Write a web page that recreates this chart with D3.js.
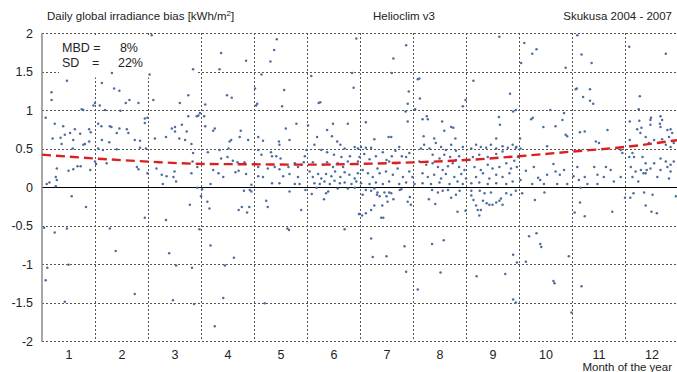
<!DOCTYPE html>
<html>
<head>
<meta charset="utf-8">
<script src="https://cdn.jsdelivr.net/npm/d3@7"></script>
<style>
  body { margin: 0; background: #fff; }
  text { font-family: "Liberation Sans", Arial, sans-serif; fill: #222; }
</style>
</head>
<body>
<div id="chart"></div>
<script>
// daily bias, [month of year, bias kWh/m2]
const jan = [[0.68,1.23],[0.68,1.13],[0.97,1.38],[0.57,0.90],[0.74,0.82],[0.70,0.63],[0.85,0.64],[0.93,0.68],[1.03,0.70],[1.12,0.75],[0.90,0.79],[1.09,0.61],[0.87,0.56],[1.28,0.55],[1.31,0.56],[1.22,0.69],[1.39,0.75],[1.42,0.71],[1.28,1.0],[1.25,1.01],[1.39,0.59],[1.08,0.50],[0.78,0.24],[0.76,0.13],[0.78,0.09],[0.59,0.04],[0.64,0.06],[1.0,0.21],[1.09,0.23],[1.17,0.27],[1.23,0.27],[1.41,0.22],[1.47,1.06],
  [0.76,0.01],[1.06,-0.12],[1.33,-0.26],[0.54,-0.53],[0.74,-0.59],[0.97,-0.54],[0.6,-1.05],[0.57,-1.21],[1.0,-1.01],[0.93,-1.49]];
const feb = [[1.5,0.33],[1.5,1.09],[1.63,1.35],[1.82,1.48],[1.86,1.28],[1.96,1.25],[1.59,1.06],[1.69,1.0],[1.98,0.99],[2.08,1.09],[2.15,1.13],[2.32,1.09],[2.44,0.89],[1.56,0.82],[1.62,0.79],[1.78,0.79],[1.81,0.78],[1.91,0.70],[1.96,0.76],[2.1,0.75],[2.13,0.70],[1.63,0.61],[1.77,0.58],[1.56,0.50],[1.65,0.48],[1.91,0.49],[2.25,0.61],[2.35,0.60],[2.35,0.51],[2.46,0.50],[2.44,0.83],[2.49,0.90],[1.72,0.31],[1.52,0.30],[2.29,0.26],[2.32,0.23],[2.49,0.18],
  [1.78,-0.54],[1.89,-0.83],[2.25,-1.39],[2.44,-0.40]];
const mar = [[2.53,1.46],[2.57,1.97],[2.6,1.13],[2.63,0.63],[2.66,0.24],[2.78,0.04],[2.85,0.14],[2.84,0.65],[2.95,0.76],[3.01,0.78],[3.01,0.72],[3.1,1.09],[3.26,1.19],[3.26,0.92],[3.14,0.81],[3.09,0.63],[3.2,0.61],[3.23,0.72],[3.32,0.56],[3.35,0.44],[3.34,0.33],[3.42,0.92],[3.45,0.93],[3.35,1.53],[3.0,0.20],[2.98,0.13],[2.76,0.16],[3.03,0.07],[3.32,0.18],[3.43,0.26],
  [2.84,-0.43],[2.9,-0.86],[3.03,-1.02],[2.97,-1.47],[3.37,-1.52],[3.29,-0.23],[3.33,-1.05],[3.43,-0.01],[3.5,-0.12],[3.47,-0.55]];
const apr = [[3.88,1.74],[3.85,1.53],[4.35,1.64],[3.58,1.07],[3.99,1.19],[4.08,1.16],[3.48,0.96],[3.56,0.92],[3.58,0.79],[3.73,0.73],[3.76,0.76],[4.04,0.59],[4.07,0.61],[4.23,0.65],[4.25,0.73],[4.39,0.61],[3.63,0.45],[3.85,0.48],[4.02,0.50],[3.88,0.37],[4.0,0.39],[4.1,0.34],[4.19,0.32],[4.32,0.32],[3.73,0.22],[3.83,0.18],[3.92,0.13],[4.15,0.19],[4.21,0.21],[4.35,0.17],[3.68,0.04],[4.45,0.03],
  [3.52,-0.03],[3.62,-0.19],[3.66,-0.28],[4.31,-0.05],[4.45,-0.06],[4.42,-0.04],[4.21,-0.30],[4.27,-0.26],[4.37,-0.33],[4.41,-0.26],[3.68,-0.76],[4.12,-0.92],[3.95,-1.02],[3.92,-1.44],[3.76,-1.81]];
const may = [[4.52,1.28],[4.56,1.08],[4.64,1.46],[4.81,1.63],[4.88,1.78],[4.93,1.92],[5.07,1.26],[5.03,1.05],[4.54,1.06],[5.1,0.76],[5.3,0.82],[5.17,0.61],[4.97,0.59],[4.98,0.55],[4.58,0.65],[4.67,0.60],[4.58,0.48],[4.82,0.45],[4.84,0.40],[4.92,0.40],[5.0,0.37],[4.64,0.42],[4.58,0.26],[4.76,0.24],[4.89,0.26],[4.98,0.23],[5.15,0.26],[5.27,0.31],[5.33,0.26],[5.39,0.29],[5.44,0.32],[4.58,0.14],[4.67,0.13],[5.05,0.14],[5.17,0.17],[5.33,0.13],[4.84,0.05],[4.98,0.05],[5.27,0.04],[5.36,0.04],[5.46,0.40],[5.49,0.48],
  [4.73,-0.18],[4.76,-0.26],[5.17,-0.06],[5.39,-0.30],[5.13,-0.54],[5.16,-0.56],[4.7,-1.51],[5.47,-0.04]];
const jun = [[5.58,1.44],[5.72,1.09],[5.75,1.10],[6.43,1.93],[6.35,1.48],[6.38,1.29],[5.99,0.82],[6.27,0.82],[5.88,0.74],[5.52,0.80],[5.69,0.65],[5.97,0.66],[6.07,0.59],[6.13,0.55],[6.21,0.50],[5.64,0.55],[5.77,0.48],[5.88,0.45],[6.01,0.42],[6.15,0.39],[6.31,0.40],[6.4,0.52],[5.61,0.32],[5.8,0.29],[5.88,0.32],[5.99,0.26],[6.08,0.31],[6.18,0.26],[6.27,0.33],[6.35,0.30],[6.46,0.33],
  [5.55,0.20],[5.61,0.13],[5.71,0.17],[5.77,0.11],[5.86,0.17],[5.96,0.14],[6.03,0.20],[6.13,0.13],[6.21,0.19],[6.3,0.16],[6.4,0.11],[6.46,0.18],[5.64,0.05],[5.74,0.04],[5.83,0.07],[5.93,0.04],[6.02,0.08],[6.12,0.05],[6.21,0.06],[6.34,0.04],[6.43,0.07],
  [5.59,-0.09],[5.68,-0.01],[5.82,-0.16],[5.86,-0.08],[5.9,-0.06],[6.21,-0.55],[6.48,-0.35],[6.08,-0.02],[6.27,-0.02],[6.4,-0.01]];
const jul = [[7.37,1.84],[7.13,1.67],[7.1,1.48],[7.42,1.24],[7.4,1.08],[7.36,0.98],[7.4,0.85],[6.61,0.84],[6.77,0.62],[7.04,0.65],[7.09,0.65],
  [6.46,0.50],[6.52,0.52],[6.61,0.51],[6.71,0.51],[6.49,0.39],[6.58,0.43],[6.68,0.36],[6.8,0.40],[6.93,0.45],[7.0,0.35],[7.1,0.40],[7.17,0.47],[7.24,0.52],[7.29,0.40],[7.37,0.39],[7.43,0.44],[7.18,0.31],[7.05,0.33],[6.55,0.22],[6.65,0.18],[6.74,0.13],[6.83,0.24],[6.87,0.18],[6.99,0.20],[7.12,0.16],[7.21,0.24],[7.31,0.13],[7.43,0.20],[7.49,0.13],[6.52,0.05],[6.68,0.04],[6.8,0.06],[6.93,0.04],[7.05,0.07],[7.24,0.04],[7.37,0.06],
  [6.49,-0.35],[6.54,-0.37],[6.61,-0.34],[6.71,-0.30],[6.77,-0.24],[6.82,-0.10],[6.87,-0.12],[6.9,-0.40],[6.94,-0.40],[6.92,-0.24],[7.0,-0.12],[7.02,-0.19],[7.05,-0.07],[7.13,-0.16],[7.25,-0.04],[7.28,-0.03],[7.4,-0.19],[7.44,-0.13],[7.46,-0.23],[6.55,-0.10],[6.61,-0.04],[6.71,-0.05],[6.77,-0.02],[6.83,-0.07],[6.96,-0.07],[7.09,-0.08],
  [6.71,-0.67],[6.74,-0.91],[7.0,-0.90],[7.34,-0.77],[7.37,-1.10]];
const aug = [[7.59,1.40],[7.62,1.41],[7.63,1.15],[7.54,1.01],[7.68,0.88],[7.76,0.92],[7.78,0.88],[8.05,0.85],[8.22,0.78],[8.26,0.77],[8.09,0.73],[8.3,0.63],[7.9,0.63],[7.7,0.66],[8.44,1.05],[8.49,1.13],
  [7.53,0.04],[7.65,0.50],[7.71,0.55],[7.81,0.50],[7.93,0.57],[8.03,0.52],[8.12,0.48],[8.22,0.55],[8.31,0.47],[8.37,0.40],[8.44,0.52],[7.87,0.42],[8.0,0.37],[8.09,0.42],[8.2,0.39],[8.31,0.35],[7.62,0.33],[7.75,0.29],[7.87,0.31],[7.97,0.26],[8.06,0.22],[8.16,0.27],[8.25,0.31],[8.37,0.26],[8.47,0.22],[7.68,0.18],[7.78,0.13],[7.9,0.16],[8.03,0.11],[8.12,0.17],[8.28,0.13],[8.41,0.17],[8.5,0.11],[7.68,0.05],[7.84,0.04],[8.0,0.06],[8.19,0.04],[8.34,0.07],[8.44,0.04],
  [7.59,-1.33],[7.8,-0.16],[7.86,-0.04],[7.97,-0.07],[8.06,-0.05],[8.16,-0.04],[8.22,-0.14],[8.31,-0.10],[8.38,-0.05],[7.92,-0.22],[7.86,-0.74],[8.08,-0.69],[8.02,-1.11],[8.34,-0.32],[8.49,-0.31]];
const sep = [[8.64,1.38],[9.13,1.95],[9.33,1.21],[9.39,0.98],[9.44,1.0],[9.12,0.91],[9.14,0.81],[9.07,0.63],
  [8.6,0.50],[8.69,0.55],[8.78,0.52],[8.88,0.51],[8.97,0.55],[9.07,0.50],[9.19,0.53],[9.29,0.51],[9.38,0.55],[9.44,0.51],[8.63,0.39],[8.75,0.42],[8.91,0.39],[9.07,0.43],[9.19,0.46],[9.32,0.39],[9.41,0.34],[8.66,0.26],[8.78,0.22],[8.91,0.29],[9.0,0.24],[9.13,0.26],[9.26,0.31],[9.35,0.24],[8.69,0.13],[8.82,0.18],[8.94,0.11],[9.07,0.16],[9.19,0.13],[9.32,0.18],[8.6,0.05],[8.75,0.06],[8.91,0.04],[9.07,0.05],[9.26,0.04],[9.38,0.07],[9.45,0.52],[9.48,0.39],[9.46,0.26],
  [8.6,-0.05],[8.64,-0.17],[8.69,-0.24],[8.72,-0.30],[8.75,-0.37],[8.78,-0.30],[8.82,-0.18],[8.85,-0.08],[8.89,-0.21],[8.94,-0.23],[9.0,-0.23],[9.07,-0.20],[9.13,-0.18],[9.16,-0.15],[9.19,-0.23],[9.26,-0.08],[9.35,-0.10],[9.44,-0.05],[8.6,-0.11],[8.76,-0.05],[8.97,-0.07],
  [8.7,-1.16],[9.24,-1.13],[9.39,-0.88],[9.46,-0.98],[9.39,-1.46],[9.44,-1.50]];
const oct = [[9.6,1.87],[9.75,1.73],[9.83,1.79],[9.54,1.61],[10.38,1.55],[10.09,1.00],[10.35,0.96],[9.73,0.88],[9.76,0.90],[9.96,0.78],[10.19,0.79],[10.32,0.87],[10.38,0.68],[10.41,0.66],[9.52,0.63],[9.53,0.50],[10.03,0.53],
  [9.63,0.21],[9.78,0.26],[9.86,0.12],[9.9,0.09],[10.03,0.16],[10.15,0.30],[10.19,0.20],[10.27,0.16],[10.35,0.22],[10.41,0.04],[10.22,0.04],[9.97,0.04],[9.75,0.04],[9.53,0.09],
  [9.56,-0.08],[9.8,-0.17],[9.98,-0.07],[9.69,-0.64],[9.83,-0.60],[9.9,-0.74],[9.92,-0.78],[9.63,-0.97],[10.15,-1.22],[10.17,-1.25],[10.44,-0.90],[10.49,-1.63]];
const nov = [[10.6,1.97],[10.68,1.72],[10.87,1.61],[10.57,1.27],[10.59,1.28],[10.71,1.17],[10.84,1.27],[10.84,1.12],[10.9,1.08],[10.74,0.72],[10.65,0.71],[11.17,0.74],[10.95,0.59],[11.01,0.57],[11.42,0.48],[11.45,0.44],[10.53,0.14],[10.6,0.26],[10.63,0.09],[10.74,0.13],[10.79,0.04],[10.92,0.26],[10.98,0.16],[11.14,0.26],[11.23,0.22],[11.1,0.13],[11.29,0.07],[11.42,0.13],[10.98,0.04],
  [10.65,-0.20],[10.55,-0.33],[10.74,-0.38],[10.66,-0.01],[11.26,-0.32],[10.68,-1.29],[11.5,-0.14]];
const dec = [[11.58,1.82],[12.27,1.73],[11.78,1.18],[11.76,1.01],[11.59,0.85],[11.77,0.86],[11.81,0.77],[11.73,0.75],[11.79,0.70],[11.89,0.65],[11.98,0.81],[11.99,0.90],[11.98,0.87],[12.17,0.92],[12.2,0.87],[12.17,0.78],[12.16,0.82],[12.3,0.74],[12.36,0.75],[12.39,0.70],[12.33,0.65],[11.95,0.57],[12.05,0.61],[12.14,0.57],[12.2,0.62],[12.27,0.55],[12.36,0.52],[12.42,0.57],[11.59,0.61],[11.64,0.44],[11.67,0.39],[11.58,0.39],[11.83,0.39],[11.89,0.31],[12.05,0.31],[12.17,0.37],[12.27,0.33],[12.36,0.29],[12.42,0.33],[11.61,0.26],[11.7,0.20],[11.8,0.22],[11.89,0.18],[11.98,0.24],[12.11,0.13],[12.17,0.22],[12.3,0.26],[12.36,0.20],[12.33,0.11],[11.64,0.13],[11.75,0.07],[11.85,0.18],[11.91,0.22],
  [11.6,-0.14],[11.66,-0.08],[11.86,-0.07],[12.02,-0.10],[11.89,-0.24],[12.0,-0.32],[12.1,-0.34],[12.46,-0.12]];

// fitted trend (red dashed)
const trendMonth = [0.5, 1.5, 2.5, 3.5, 4.5, 5.5, 6.5, 7.5, 8.5, 9.5, 10.5, 11.5, 12.5];
const trendBias = [0.42, 0.37, 0.33, 0.30, 0.295, 0.29, 0.30, 0.32, 0.35, 0.40, 0.46, 0.52, 0.61];

const months = [1, 2, 3, 4, 5, 6, 7, 8, 9, 10, 11, 12];
const monthEdges = [1.5, 2.5, 3.5, 4.5, 5.5, 6.5, 7.5, 8.5, 9.5, 10.5, 11.5];
const yTicks = [-2, -1.5, -1, -0.5, 0, 0.5, 1, 1.5, 2];

const allPoints = [].concat(jan, feb, mar, apr, may, jun, jul, aug, sep, oct, nov, dec);

var chartWidth = 677;
var chartHeight = 372;
var plotLeft = 42, plotRight = 678, plotTop = 33, plotBottom = 341;

const svg = d3.select('#chart')
    .append('svg')
    .attr('width', chartWidth)
    .attr('height', chartHeight);

const x = d3.scaleLinear().domain([0.5, 12.5]).range([plotLeft, plotRight]);
const y = d3.scaleLinear().domain([-2, 2]).range([plotBottom, plotTop]);

// grid
svg.append('g')
    .selectAll('line')
    .data(yTicks.filter(d => d !== 0))
    .enter()
    .append('line')
    .attr('x1', plotLeft).attr('x2', chartWidth)
    .attr('y1', d => Math.round(y(d)) + 0.5).attr('y2', d => Math.round(y(d)) + 0.5)
    .attr('stroke', '#555')
    .attr('stroke-width', 1)
    .attr('stroke-dasharray', '2,2');

svg.append('g')
    .selectAll('line')
    .data(monthEdges)
    .enter()
    .append('line')
    .attr('x1', d => Math.round(x(d)) + 0.5).attr('x2', d => Math.round(x(d)) + 0.5)
    .attr('y1', plotTop).attr('y2', plotBottom)
    .attr('stroke', '#555')
    .attr('stroke-width', 1)
    .attr('stroke-dasharray', '2,2');

// white box behind the statistics text
svg.append('rect')
    .attr('x', 59).attr('y', y(2) + 2)
    .attr('width', 138).attr('height', y(1.5) - y(2) + 4)
    .attr('fill', '#fff');

// zero line
svg.append('line')
    .attr('x1', plotLeft).attr('x2', chartWidth)
    .attr('y1', Math.round(y(0)) + 0.5).attr('y2', Math.round(y(0)) + 0.5)
    .attr('stroke', '#000')
    .attr('stroke-width', 1);

// left axis
svg.append('line')
    .attr('x1', plotLeft).attr('x2', plotLeft)
    .attr('y1', plotTop).attr('y2', plotBottom + 1)
    .attr('stroke', '#8a8a8a')
    .attr('stroke-width', 1.5);

// points
svg.append('g')
    .selectAll('circle')
    .data(allPoints)
    .enter()
    .append('circle')
    .attr('cx', d => x(d[0]))
    .attr('cy', d => y(d[1]))
    .attr('r', 1.25)
    .attr('fill', '#4d6d9e');

// trend
const line = d3.line()
    .x((d, i) => x(trendMonth[i]))
    .y(d => y(d))
    .curve(d3.curveMonotoneX);

svg.append('path')
    .datum(trendBias)
    .attr('d', line)
    .attr('fill', 'none')
    .attr('stroke', '#dd1f1f')
    .attr('stroke-width', 2.4)
    .attr('stroke-dasharray', '9,5');

// axes labels
const yAxis = d3.axisLeft(y).tickValues(yTicks).tickSize(0).tickPadding(9)
    .tickFormat(d => String(d));
const gy = svg.append('g').attr('transform', `translate(${plotLeft},0)`).call(yAxis);
gy.select('.domain').remove();
gy.selectAll('text').style('font-size', '12.5px').attr('fill', '#222')
    .style('font-family', '"Liberation Sans", Arial, sans-serif');

const xAxis = d3.axisBottom(x).tickValues(months).tickSize(0).tickPadding(9);
const gx = svg.append('g').attr('transform', `translate(0,${plotBottom})`).call(xAxis);
gx.select('.domain').remove();
gx.selectAll('text').style('font-size', '12.5px').attr('fill', '#222')
    .style('font-family', '"Liberation Sans", Arial, sans-serif');

// titles
const title = svg.append('text').attr('x', 47).attr('y', 20).style('font-size', '11.5px');
title.append('tspan').text('Daily global irradiance bias [kWh/m');
title.append('tspan').attr('dy', -4).style('font-size', '8px').text('2');
title.append('tspan').attr('dy', 4).text(']');

svg.append('text').attr('x', 404).attr('y', 20).attr('text-anchor', 'middle')
    .style('font-size', '11.5px').text('Helioclim v3');
svg.append('text').attr('x', 672).attr('y', 20).attr('text-anchor', 'end')
    .style('font-size', '11.5px').text('Skukusa 2004 - 2007');

svg.append('text').attr('x', 62).attr('y', 52).style('font-size', '12.5px').text('MBD =');
svg.append('text').attr('x', 138).attr('y', 52).attr('text-anchor', 'end').style('font-size', '12.5px').text('8%');
svg.append('text').attr('x', 62).attr('y', 67).style('font-size', '12.5px').text('SD');
svg.append('text').attr('x', 92).attr('y', 67).style('font-size', '12.5px').text('=');
svg.append('text').attr('x', 143).attr('y', 67).attr('text-anchor', 'end').style('font-size', '12.5px').text('22%');

svg.append('text').attr('x', 672).attr('y', 371).attr('text-anchor', 'end')
    .style('font-size', '11.5px').text('Month of the year');
</script>
</body>
</html>
